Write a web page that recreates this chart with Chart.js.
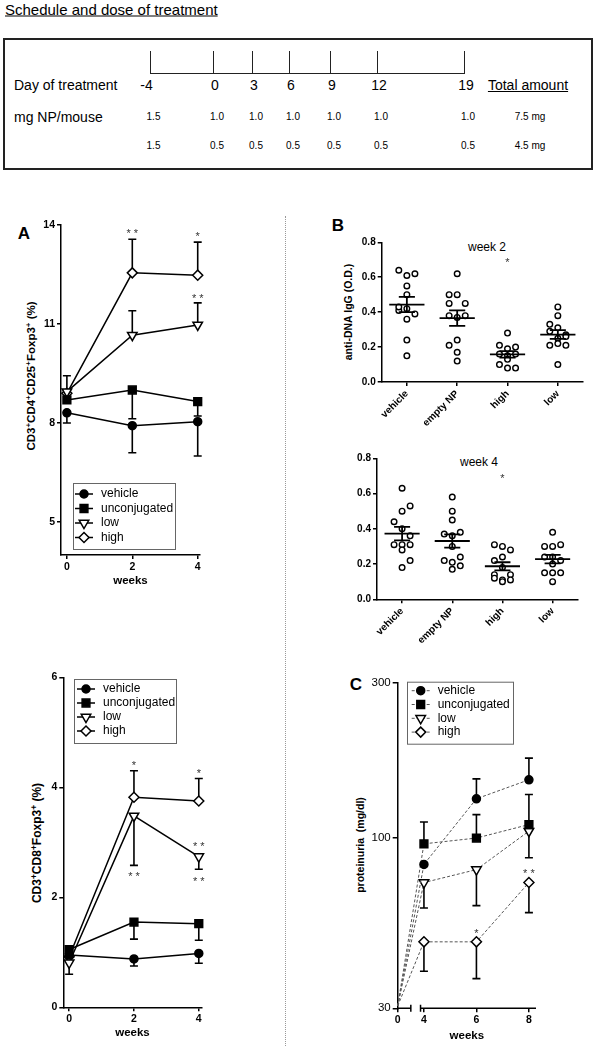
<!DOCTYPE html>
<html>
<head>
<meta charset="utf-8">
<title>Schedule and dose of treatment</title>
<script src="https://cdn.jsdelivr.net/npm/chart.js@4.4.1/dist/chart.umd.min.js"></script>
<style>
  html, body { margin: 0; padding: 0; background: #fff; }
  body { position: relative; width: 596px; height: 1050px; overflow: hidden;
         font-family: "Liberation Sans", Arial, sans-serif; color: #000; }
  .t { position: absolute; white-space: nowrap; line-height: 1; }
  .c { transform: translate(-50%, -50%); }
  .l { transform: translate(0, -50%); }
  .rot { transform: translate(-50%, -50%) rotate(-90deg); font-weight: bold; }
  canvas { position: absolute; }
  sup { font-size: 70%; vertical-align: 0.5em; line-height: 0; }
</style>
</head>
<body>
<script>
// ---------- données ----------
const scheduleDays = ['-4', '0', '3', '6', '9', '12', '19'];
const doseHighMg = ['1.5', '1.0', '1.0', '1.0', '1.0', '1.0', '1.0'];
const doseLowMg = ['1.5', '0.5', '0.5', '0.5', '0.5', '0.5', '0.5'];
const totalAmounts = ['7.5 mg', '4.5 mg'];

const seriesNames = ['vehicle', 'unconjugated', 'low', 'high'];

// panel A : CD3+CD4+CD25+Foxp3+ (%)
const weeksA = [0, 2, 4];
const cd4Vehicle = [8.31, 7.92, 8.04];
const cd4Unconj = [8.7, 9.0, 8.65];
const cd4Low = [8.95, 10.66, 10.97];
const cd4High = [8.9, 12.55, 12.48];
// extrémité de la barre SEM (une seule direction)
const cd4VehicleErr = [8.0, 7.1, 7.0];
const cd4UnconjErr = [null, 8.13, 8.21];
const cd4LowErr = [9.43, 11.4, 11.64];
const cd4HighErr = [null, 13.57, 13.48];
const cd4Stars = [[2, 13.83, '**'], [4, 13.73, '*'], [4, 11.85, '**']];

// panel CD3+CD8+Foxp3+ (%)
const cd8Vehicle = [0.95, 0.88, 0.98];
const cd8Unconj = [1.05, 1.55, 1.52];
const cd8Low = [0.81, 3.48, 2.74];
const cd8High = [0.92, 3.82, 3.75];
const cd8VehicleErr = [null, 0.75, 0.8];
const cd8UnconjErr = [null, 1.24, 1.22];
const cd8LowErr = [0.6, 2.58, 2.51];
const cd8HighErr = [null, 4.3, 4.16];
const cd8Stars = [[2, 4.44, '*'], [4, 4.3, '*'], [4, 2.97, '**'], [2, 2.42, '**'], [4, 2.33, '**']];

// panel B : anti-DNA IgG (O.D.)
const groupsB = ['vehicle', 'empty NP', 'high', 'low'];
const week2Values = [
  [0.64, 0.61, 0.62, 0.55, 0.50, 0.41, 0.42, 0.39, 0.36, 0.24, 0.15, 0.43],
  [0.62, 0.50, 0.50, 0.45, 0.45, 0.38, 0.37, 0.38, 0.24, 0.21, 0.17, 0.12],
  [0.28, 0.21, 0.20, 0.19, 0.16, 0.15, 0.16, 0.13, 0.10, 0.08, 0.08],
  [0.43, 0.38, 0.33, 0.31, 0.29, 0.27, 0.25, 0.21, 0.22, 0.21, 0.10, 0.26],
];
const week2Cols = [
  [-1, 0, 1, 0, 0, -1, 0, 1, 0, 0, 0, -1],
  [0, -1, 0, -1, 1, -1, 0, 1, 0, -1, 0, 0],
  [0, -1, 1, 0, -1, 0, 1, 0, -1, 0, 1],
  [0, 0, -1, 0, -1, 1, 0, -1, 0, 1, 0, 1],
];
const week2Stars = [[2, 0.70, '*']];
const week4Values = [
  [0.63, 0.53, 0.50, 0.44, 0.40, 0.36, 0.31, 0.31, 0.31, 0.28, 0.22, 0.18],
  [0.58, 0.50, 0.45, 0.37, 0.36, 0.38, 0.30, 0.22, 0.21, 0.19, 0.17, 0.24],
  [0.31, 0.30, 0.28, 0.24, 0.22, 0.18, 0.14, 0.14, 0.12, 0.11, 0.11, 0.10],
  [0.38, 0.30, 0.30, 0.31, 0.24, 0.24, 0.22, 0.20, 0.15, 0.15, 0.15, 0.10],
];
const week4Cols = [
  [0, 1, 0, -1, 0, 1, -1, 0, 1, 0, 1, 0],
  [0, 0, 0, -1, 0, 1, 0, -1, 0, 1, 0, 1],
  [-1, 0, 1, 0, -1, 0, -1, 1, -1, 0, 1, 0],
  [0, -1, 0, 1, -1, 0, 1, 0, -1, 0, 1, 0],
];
const week4Stars = [[2, 0.70, '*']];

// panel C : proteinuria (mg/dl)
const weeksC = [0, 4, 6, 8];
const protVehicle = [30.5, 83, 132, 151];
const protUnconj = [30.5, 96, 100, 110];
const protLow = [30.5, 73, 80, 105];
const protHigh = [30.5, 48, 48, 73];
const protVehicleErr = [null, null, 152, 176];
const protUnconjErr = [null, 112, 118, 136];
const protLowErr = [null, 61, 62, 87];
const protHighErr = [null, 39, 37, 59];
const protStars = [[6, 52, '*'], [8, 79, '**']];

// ---------- mise en page (positions du schéma) ----------
const dayTickX = [150.5, 214, 253, 290, 331, 378, 465];

function put(html, x, y, css, cls) {
    const d = document.createElement('div');
    d.className = 't ' + (cls || 'c');
    d.style.left = x + 'px';
    d.style.top = y + 'px';
    if (css) d.style.cssText += css;
    d.innerHTML = html;
    document.body.appendChild(d);
    return d;
}
function rule(x, y, w, h, css) {
    const d = document.createElement('div');
    d.style.cssText = `position:absolute;left:${x}px;top:${y}px;width:${w}px;height:${h}px;` + css;
    document.body.appendChild(d);
}

// schéma du traitement
put('Schedule and dose of treatment', 5, 9, 'font-size:15px;text-decoration:underline;', 'l');
rule(3, 38, 586, 128, 'border:2px solid #222;');
rule(dayTickX[0], 73, dayTickX[dayTickX.length - 1] - dayTickX[0], 0, 'border-top:1.5px solid #222;');
dayTickX.forEach((x) => rule(x - 0.75, 51, 0, 23, 'border-left:1.5px solid #222;'));
put('Day of treatment', 14, 85, 'font-size:14px;', 'l');
put('mg NP/mouse', 14, 117, 'font-size:14px;', 'l');
scheduleDays.forEach((d, i) => put(d, dayTickX[i] + (i === 0 ? -4 : 1), 85, 'font-size:14px;'));
doseHighMg.forEach((d, i) => put(d, dayTickX[i] + 3, 117, 'font-size:10px;'));
doseLowMg.forEach((d, i) => put(d, dayTickX[i] + 3, 146, 'font-size:10px;'));
put('Total amount', 528, 85, 'font-size:14px;text-decoration:underline;');
put(totalAmounts[0], 530, 117, 'font-size:10px;');
put(totalAmounts[1], 530, 146, 'font-size:10px;');

// séparateur pointillé
rule(285, 216, 0, 830, 'border-left:1px dotted #999;');

// lettres et titres
put('A', 24, 233, 'font-size:17px;font-weight:bold;');
put('B', 338, 225, 'font-size:17px;font-weight:bold;');
put('C', 356, 684, 'font-size:17px;font-weight:bold;');
put('week 2', 487, 247, 'font-size:12px;');
put('week 4', 479, 462, 'font-size:12px;');
put('CD3<sup>+</sup>CD4<sup>+</sup>CD25<sup>+</sup>Foxp3<sup>+</sup> (%)', 32, 376, 'font-size:11.5px;', 'rot');
put('CD3<sup>+</sup>CD8<sup>+</sup>Foxp3<sup>+</sup> (%)', 37, 843, 'font-size:12px;', 'rot');
put('anti-DNA IgG (O.D.)', 348, 312, 'font-size:10.5px;', 'rot');
put('proteinuria&nbsp;&nbsp;(mg/dl)', 360, 845, 'font-size:10.5px;', 'rot');

// ---------- Chart.js ----------
Chart.defaults.font.family = '"Liberation Sans", Arial, sans-serif';
Chart.defaults.color = '#000';
Chart.defaults.animation = false;
Chart.defaults.responsive = false;
Chart.defaults.devicePixelRatio = 1;
Chart.defaults.plugins.legend.display = false;
Chart.defaults.plugins.tooltip.enabled = false;

const markerStyles = [
    { pointStyle: 'circle', radius: 4, fill: '#000', rot: 0 },
    { pointStyle: 'rect', radius: 5.5, fill: '#000', rot: 0 },
    { pointStyle: 'triangle', radius: 5.5, fill: '#fff', rot: 180 },
    { pointStyle: 'rectRot', radius: 5, fill: '#fff', rot: 0 },
];

function makeCanvas(left, top, w, h) {
    const c = document.createElement('canvas');
    c.width = w;
    c.height = h;
    c.style.left = left + 'px';
    c.style.top = top + 'px';
    document.body.appendChild(c);
    return c;
}

function axis(o) {
    return {
        type: o.type || 'linear',
        min: o.min,
        max: o.max,
        afterBuildTicks: (s) => { s.ticks = o.ticks.map((v) => ({ value: v })); },
        afterFit: (s) => {
            if (o.width != null) s.width = o.width;
            if (o.height != null) s.height = o.height;
        },
        grid: { display: true, drawOnChartArea: false, drawTicks: true, tickLength: o.tickLength || 4, color: '#000', lineWidth: 1.5 },
        border: { display: o.border !== false, color: '#000', width: 1.5 },
        ticks: {
            padding: 2,
            autoSkip: false,
            color: '#000',
            font: o.font || { size: 10.5, weight: 'bold' },
            minRotation: o.rot || 0,
            maxRotation: o.rot || 0,
            callback: o.label || ((v) => String(v)),
        },
        title: o.title
            ? { display: true, text: o.title, color: '#000', font: { size: 11.5, weight: 'bold' }, padding: { top: 0, bottom: 1 } }
            : { display: false },
    };
}

// barres SEM unilatérales
const errorBars = {
    id: 'errorBars',
    beforeDatasetsDraw(chart) {
        const { ctx, scales: { y } } = chart;
        ctx.save();
        ctx.strokeStyle = '#000';
        ctx.lineWidth = 1.6;
        chart.data.datasets.forEach((ds, i) => {
            if (!ds.errEnd) return;
            chart.getDatasetMeta(i).data.forEach((pt, j) => {
                const end = ds.errEnd[j];
                if (end == null) return;
                const ye = y.getPixelForValue(end);
                ctx.beginPath();
                ctx.moveTo(pt.x, pt.y);
                ctx.lineTo(pt.x, ye);
                ctx.moveTo(pt.x - 4, ye);
                ctx.lineTo(pt.x + 4, ye);
                ctx.stroke();
            });
        });
        ctx.restore();
    },
};

function makeStars(items, mapX) {
    return {
        id: 'stars',
        afterDatasetsDraw(chart) {
            const { ctx, scales: { x, y } } = chart;
            ctx.save();
            ctx.fillStyle = '#333';
            ctx.font = '11px "Liberation Sans", Arial';
            ctx.textAlign = 'center';
            ctx.textBaseline = 'alphabetic';
            items.forEach(([xv, yv, txt]) => {
                const px = x.getPixelForValue(mapX ? mapX(xv) : xv);
                const py = y.getPixelForValue(yv);
                ctx.fillText(txt.split('').join(' '), px, py + 6);
            });
            ctx.restore();
        },
    };
}

function makeLegend(box) {
    return {
        id: 'boxLegend',
        afterDraw(chart) {
            const ctx = chart.ctx;
            ctx.save();
            ctx.strokeStyle = '#666';
            ctx.lineWidth = 1;
            ctx.strokeRect(box.left + 0.5, box.top + 0.5, box.width, box.height);
            chart.data.datasets.forEach((ds, i) => {
                const cy = box.top + box.first + i * box.step;
                ctx.strokeStyle = ds.borderColor;
                ctx.lineWidth = ds.borderWidth;
                ctx.setLineDash(ds.borderDash || []);
                ctx.beginPath();
                ctx.moveTo(box.symX - 9, cy);
                ctx.lineTo(box.symX + 9, cy);
                ctx.stroke();
                ctx.setLineDash([]);
                ctx.fillStyle = ds.pointBackgroundColor;
                ctx.strokeStyle = '#000';
                ctx.lineWidth = 1.5;
                Chart.helpers.drawPoint(ctx, {
                    pointStyle: ds.pointStyle,
                    radius: ds.legendRadius,
                    rotation: ds.pointRotation,
                    borderWidth: 1.5,
                }, box.symX, cy);
                ctx.fillStyle = '#000';
                ctx.font = '12px "Liberation Sans", Arial';
                ctx.textAlign = 'left';
                ctx.textBaseline = 'middle';
                ctx.fillText(ds.label, box.textX, cy);
            });
            ctx.restore();
        },
    };
}

function lineDatasets(weeks, values, errs, mapX, dashed) {
    return seriesNames.map((name, i) => {
        const m = markerStyles[i];
        return {
            label: name,
            data: weeks.map((w, j) => ({ x: mapX ? mapX(w) : w, y: values[i][j] })),
            errEnd: errs[i],
            borderColor: dashed ? '#555' : '#000',
            borderWidth: dashed ? 1 : 1.5,
            borderDash: dashed ? [3, 2] : [],
            pointStyle: m.pointStyle,
            pointRotation: m.rot,
            pointRadius: weeks.map((w) => (dashed && w === 0 ? 0 : m.radius)),
            legendRadius: m.radius,
            pointBackgroundColor: m.fill,
            pointBorderColor: '#000',
            pointBorderWidth: 1.5,
            tension: 0,
            fill: false,
            clip: false,
        };
    });
}

// ----- panel A -----
new Chart(makeCanvas(0, 195, 290, 400), {
    type: 'line',
    data: {
        datasets: lineDatasets(weeksA,
            [cd4Vehicle, cd4Unconj, cd4Low, cd4High],
            [cd4VehicleErr, cd4UnconjErr, cd4LowErr, cd4HighErr]),
    },
    options: {
        layout: { padding: { left: 0, top: 30, right: 90, bottom: 6 } },
        scales: {
            x: axis({ min: -0.18, max: 4.07, ticks: weeksA, height: 34, title: 'weeks' }),
            y: axis({ min: 4, max: 14, ticks: [5, 8, 11, 14], width: 61 }),
        },
    },
    plugins: [errorBars, makeStars(cd4Stars),
        makeLegend({ left: 73, top: 288, width: 102, height: 66, first: 11, step: 14.5, symX: 84, textX: 101 })],
});

// ----- panel CD8 -----
new Chart(makeCanvas(0, 650, 290, 400), {
    type: 'line',
    data: {
        datasets: lineDatasets(weeksA,
            [cd8Vehicle, cd8Unconj, cd8Low, cd8High],
            [cd8VehicleErr, cd8UnconjErr, cd8LowErr, cd8HighErr]),
    },
    options: {
        layout: { padding: { left: 0, top: 27.3, right: 88.3, bottom: 9.4 } },
        scales: {
            x: axis({ min: -0.18, max: 4.09, ticks: weeksA, height: 33.3, title: 'weeks' }),
            y: axis({ min: 0, max: 6, ticks: [0, 2, 4, 6], width: 63.3 }),
        },
    },
    plugins: [errorBars, makeStars(cd8Stars),
        makeLegend({ left: 74, top: 29, width: 102, height: 64, first: 10, step: 14, symX: 86, textX: 103 })],
});

// ----- panel B -----
const jitter = 0.16;
const meanHalf = 0.35;
const semHalf = 0.16;

const meanSem = {
    id: 'meanSem',
    afterDatasetsDraw(chart) {
        const { ctx, scales: { x, y } } = chart;
        ctx.save();
        ctx.strokeStyle = '#000';
        ctx.lineWidth = 1.8;
        chart.data.datasets.forEach((ds, i) => {
            const vals = ds.data.map((p) => p.y);
            const n = vals.length;
            const mean = vals.reduce((a, b) => a + b, 0) / n;
            const sd = Math.sqrt(vals.reduce((a, b) => a + (b - mean) ** 2, 0) / (n - 1));
            const sem = sd / Math.sqrt(n);
            const cx = x.getPixelForValue(i);
            const hw = x.getPixelForValue(i + meanHalf) - cx;
            const cw = x.getPixelForValue(i + semHalf) - cx;
            const ym = y.getPixelForValue(mean);
            const yu = y.getPixelForValue(mean + sem);
            const yl = y.getPixelForValue(mean - sem);
            ctx.beginPath();
            ctx.moveTo(cx - hw, ym); ctx.lineTo(cx + hw, ym);
            ctx.moveTo(cx, yu); ctx.lineTo(cx, yl);
            ctx.moveTo(cx - cw, yu); ctx.lineTo(cx + cw, yu);
            ctx.moveTo(cx - cw, yl); ctx.lineTo(cx + cw, yl);
            ctx.stroke();
        });
        ctx.restore();
    },
};

function dotDatasets(values, cols) {
    return groupsB.map((g, i) => ({
        label: g,
        data: values[i].map((v, j) => ({ x: i + cols[i][j] * jitter, y: v })),
        pointStyle: 'circle',
        pointRadius: 2.8,
        pointBorderWidth: 1.4,
        pointBackgroundColor: '#fff',
        pointBorderColor: '#000',
        showLine: false,
        clip: false,
    }));
}

function dotOptions(pad, yWidth) {
    return {
        layout: { padding: pad },
        scales: {
            x: axis({ min: -0.5, max: 3.5, ticks: [0, 1, 2, 3], height: 50, rot: 45,
                font: { size: 10, weight: 'bold' }, label: (v) => groupsB[v] }),
            y: axis({ min: 0, max: 0.8, ticks: [0, 0.2, 0.4, 0.6, 0.8], width: yWidth,
                font: { size: 10, weight: 'bold' }, label: (v) => v.toFixed(1) }),
        },
    };
}

new Chart(makeCanvas(300, 200, 296, 240), {
    type: 'scatter',
    data: { datasets: dotDatasets(week2Values, week2Cols) },
    options: dotOptions({ left: 0, top: 42.3, right: 13, bottom: 8 }, 81.7),
    plugins: [meanSem, makeStars(week2Stars)],
});

new Chart(makeCanvas(300, 440, 296, 225), {
    type: 'scatter',
    data: { datasets: dotDatasets(week4Values, week4Cols) },
    options: dotOptions({ left: 0, top: 18.3, right: 18.3, bottom: 15.7 }, 77),
    plugins: [meanSem, makeStars(week4Stars)],
});

// ----- panel C (axe des x interrompu entre 0 et 4) -----
const breakX = (w) => (w === 0 ? 0 : w - 3);
const gapFrom = 0.5;
const gapTo = 0.87;

const brokenAxis = {
    id: 'brokenAxis',
    afterDraw(chart) {
        const { ctx, chartArea, scales: { x } } = chart;
        const yb = chartArea.bottom;
        const a = x.getPixelForValue(x.min);
        const b = x.getPixelForValue(gapFrom);
        const c = x.getPixelForValue(gapTo);
        const d = x.getPixelForValue(x.max);
        ctx.save();
        ctx.strokeStyle = '#000';
        ctx.lineWidth = 1.5;
        ctx.beginPath();
        ctx.moveTo(a, yb); ctx.lineTo(b, yb);
        ctx.moveTo(b, yb - 3.5); ctx.lineTo(b, yb + 3.5);
        ctx.moveTo(c, yb - 3.5); ctx.lineTo(c, yb + 3.5);
        ctx.moveTo(c, yb); ctx.lineTo(d, yb);
        ctx.stroke();
        ctx.restore();
    },
};

new Chart(makeCanvas(300, 660, 296, 390), {
    type: 'line',
    data: {
        datasets: lineDatasets(weeksC,
            [protVehicle, protUnconj, protLow, protHigh],
            [protVehicleErr, protUnconjErr, protLowErr, protHighErr], breakX, true),
    },
    options: {
        layout: { padding: { left: 0, top: 22.7, right: 60, bottom: 6.7 } },
        scales: {
            x: axis({ min: 0, max: 5.27, ticks: weeksC.map(breakX), height: 35, title: 'weeks', border: false,
                label: (v) => String(weeksC.find((w) => breakX(w) === v)) }),
            y: axis({ type: 'logarithmic', min: 30, max: 300, ticks: [30, 100, 300], width: 97.7, tickLength: 5,
                font: { size: 11.5 }, label: (v) => String(v) }),
        },
    },
    plugins: [errorBars, brokenAxis, makeStars(protStars, breakX),
        makeLegend({ left: 107, top: 21.7, width: 106, height: 62, first: 9, step: 13.8, symX: 120.7, textX: 137.7 })],
});
</script>
</body>
</html>
